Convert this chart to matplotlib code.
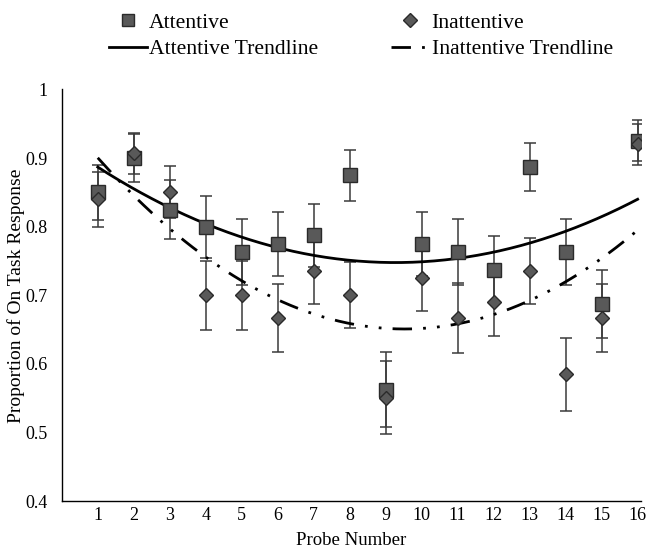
import numpy as np
import matplotlib
matplotlib.use("Agg")
import matplotlib.pyplot as plt
from matplotlib.lines import Line2D

plt.rcParams["font.family"] = ["Liberation Serif", "DejaVu Serif"]

probes = np.arange(1, 17)
attentive = [0.85, 0.90, 0.825, 0.80, 0.7625, 0.775, 0.7875, 0.875,
             0.5625, 0.775, 0.7625, 0.7375, 0.8875, 0.7625, 0.6875, 0.925]
attentive_err = [0.04, 0.035, 0.043, 0.045, 0.048, 0.047, 0.046, 0.037,
                 0.055, 0.047, 0.048, 0.049, 0.035, 0.048, 0.05, 0.03]
inattentive = [0.84, 0.907, 0.851, 0.70, 0.70, 0.667, 0.735, 0.70,
               0.551, 0.725, 0.667, 0.69, 0.735, 0.585, 0.667, 0.92]
inattentive_err = [0.04, 0.03, 0.038, 0.05, 0.05, 0.05, 0.048, 0.048,
                   0.053, 0.048, 0.051, 0.05, 0.048, 0.053, 0.05, 0.03]

marker_color = "#595959"
trend_dashes = (7, 4, 1, 4, 1, 4)

fig = plt.figure(figsize=(6.57, 5.52), dpi=100)
ax = fig.add_axes([0.094, 0.092, 0.882, 0.746])

# quadratic trendlines, like Excel's polynomial order 2
xs = np.linspace(1, 16, 200)
att_fit = np.polyval(np.polyfit(probes, attentive, 2), xs)
inatt_fit = np.polyval(np.polyfit(probes, inattentive, 2), xs)

ax.errorbar(probes, attentive, yerr=attentive_err, fmt="none",
            ecolor="#3a3a3a", elinewidth=1.1, capsize=4, capthick=1.1, zorder=2)
ax.errorbar(probes, inattentive, yerr=inattentive_err, fmt="none",
            ecolor="#3a3a3a", elinewidth=1.1, capsize=4, capthick=1.1, zorder=2)

ax.plot(xs, att_fit, color="black", lw=2, zorder=3)
ax.plot(xs, inatt_fit, color="black", lw=2, dashes=trend_dashes, zorder=3)

ax.plot(probes, attentive, "s", ms=9.5, color=marker_color,
        mec="#2a2a2a", mew=1, zorder=4)
ax.plot(probes, inattentive, "D", ms=7.5, color=marker_color,
        mec="#2a2a2a", mew=1, zorder=5)

ax.set_xlim(0, 16.1)
ax.set_ylim(0.4, 1.0)
ax.set_xticks(probes)
ax.set_xticklabels([str(p) for p in probes])
ax.set_yticks([0.4, 0.5, 0.6, 0.7, 0.8, 0.9, 1.0])
ax.set_yticklabels(["0.4", "0.5", "0.6", "0.7", "0.8", "0.9", "1"])
ax.tick_params(axis="x", length=0, labelsize=13, pad=4)
ax.tick_params(axis="y", length=0, labelsize=13, pad=10)
for s in ["top", "right"]:
    ax.spines[s].set_visible(False)
for s in ["left", "bottom"]:
    ax.spines[s].set_linewidth(1)
    ax.spines[s].set_color("black")

ax.set_xlabel("Probe Number", fontsize=13.5, labelpad=6)
ax.set_ylabel("Proportion of On Task Response", fontsize=14)
ax.yaxis.set_label_coords(-0.064, 0.5)

handles = [
    Line2D([], [], ls="none", marker="s", ms=9, color=marker_color, mec="#2a2a2a"),
    Line2D([], [], color="black", lw=2),
    Line2D([], [], ls="none", marker="D", ms=7, color=marker_color, mec="#2a2a2a"),
    Line2D([], [], color="black", lw=2, dashes=trend_dashes),
]
labels = ["Attentive", "Attentive Trendline", "Inattentive", "Inattentive Trendline"]
fig.legend(handles, labels, loc="center", bbox_to_anchor=(0.549, 0.935), ncol=2,
           frameon=False, fontsize=15.6, handlelength=1.75, handletextpad=0.12,
           columnspacing=3.35, labelspacing=0.3)

fig.savefig("out.png", dpi=100)
